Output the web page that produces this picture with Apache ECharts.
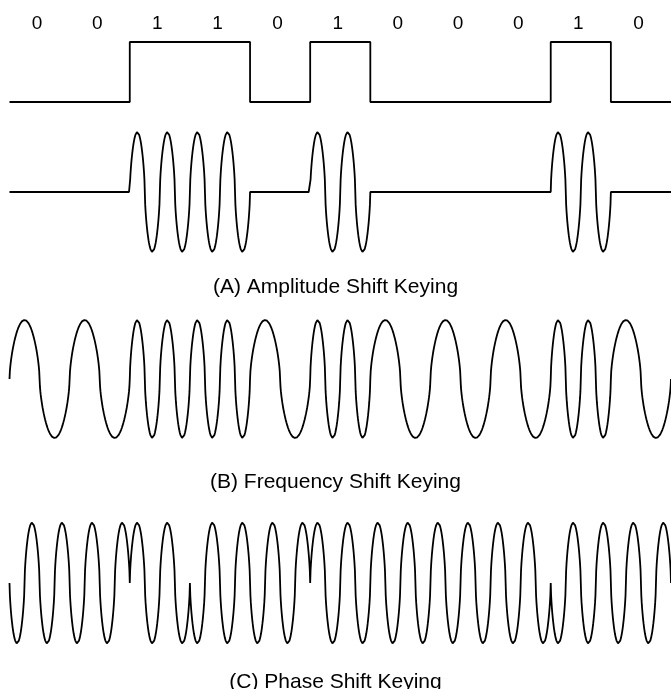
<!DOCTYPE html>
<html>
<head>
<meta charset="utf-8">
<script src="https://cdn.jsdelivr.net/npm/echarts@6/dist/echarts.min.js"></script>
<style>
  html, body { margin: 0; padding: 0; background: #fff; }
  #chart { width: 671px; height: 689px; }
</style>
</head>
<body>
<div id="chart"></div>
<script>
// ---- data ----
var bits = ['0', '0', '1', '1', '0', '1', '0', '0', '0', '1', '0'];
var squareLevels = [0, 0, 1, 1, 0, 1, 0, 0, 0, 1, 0];
var askAmplitude = [0, 0, 1, 1, 0, 1, 0, 0, 0, 1, 0];   // carrier on/off per bit
var askCycles = [2, 2, 2, 2, 2, 2, 2, 2, 2, 2, 2];      // carrier cycles per bit
var fskCycles = [1, 1, 2, 2, 1, 2, 1, 1, 1, 2, 1];      // cycles per bit (low / high frequency)
var pskPhase = [-1, -1, 1, -1, -1, 1, 1, 1, 1, -1, -1]; // carrier sign per bit
var pskCycles = [2, 2, 2, 2, 2, 2, 2, 2, 2, 2, 2];
var captions = ['(A) Amplitude Shift Keying', '(B) Frequency Shift Keying', '(C) Phase Shift Keying'];

// ---- build series data from the per-bit values ----
var SAMPLES = 160;
var SHAPE = 0.62; // rounder lobes, as drawn in the figure
function carrier(amps, cycles) {
  var pts = [];
  for (var i = 0; i < amps.length; i++) {
    for (var j = 0; j <= SAMPLES; j++) {
      var t = j / SAMPLES;
      var s = Math.sin(2 * Math.PI * cycles[i] * t);
      var v = (s < 0 ? -1 : 1) * Math.pow(Math.abs(s), SHAPE);
      pts.push([i + t, amps[i] * v]);
    }
  }
  return pts;
}
var squareData = squareLevels.map(function (v, i) { return [i, v]; });
squareData.push([squareLevels.length, squareLevels[squareLevels.length - 1]]);

var fskAmp = fskCycles.map(function () { return 1; });

var chart = echarts.init(document.getElementById('chart'), null, { renderer: 'canvas' });

var BITW = 60.4;
var LEFT = 9.5;
var gridRight = 671 - LEFT - BITW * bits.length;
function grid(top, height) {
  return { left: LEFT, right: gridRight, top: top, height: height, containLabel: false };
}
function hiddenX(gi) {
  return { type: 'value', gridIndex: gi, min: 0, max: bits.length, show: false };
}
function hiddenY(gi, min, max) {
  return { type: 'value', gridIndex: gi, min: min, max: max, show: false };
}
var lineStyle = { color: '#000', width: 1.8 };
var textFont = 'Liberation Sans, Arial, Helvetica, sans-serif';

chart.setOption({
  animation: false,
  backgroundColor: '#fff',
  title: [
    { text: captions[0], left: 'center', top: 272, textStyle: { fontSize: 21, fontWeight: 'normal', color: '#000', fontFamily: textFont } },
    { text: captions[1], left: 'center', top: 467, textStyle: { fontSize: 21, fontWeight: 'normal', color: '#000', fontFamily: textFont } },
    { text: captions[2], left: 'center', top: 667, textStyle: { fontSize: 21, fontWeight: 'normal', color: '#000', fontFamily: textFont } }
  ],
  grid: [
    grid(42, 60),
    grid(132, 120),
    grid(320, 118),
    grid(522.5, 121)
  ],
  xAxis: [
    hiddenX(0), hiddenX(1), hiddenX(2), hiddenX(3),
    {
      type: 'category', gridIndex: 0, position: 'top', data: bits, boundaryGap: true,
      axisLine: { show: false }, axisTick: { show: false }, splitLine: { show: false },
      axisLabel: { interval: 0, margin: 9, fontSize: 19, color: '#000', fontFamily: textFont, padding: [0, 5, 0, 0] }
    }
  ],
  yAxis: [
    hiddenY(0, 0, 1), hiddenY(1, -1, 1), hiddenY(2, -1, 1), hiddenY(3, -1, 1)
  ],
  series: [
    { type: 'line', xAxisIndex: 0, yAxisIndex: 0, data: squareData, step: 'end', showSymbol: false, lineStyle: lineStyle, silent: true },
    { type: 'line', xAxisIndex: 1, yAxisIndex: 1, data: carrier(askAmplitude, askCycles), showSymbol: false, lineStyle: lineStyle, silent: true },
    { type: 'line', xAxisIndex: 2, yAxisIndex: 2, data: carrier(fskAmp, fskCycles), showSymbol: false, lineStyle: lineStyle, silent: true },
    { type: 'line', xAxisIndex: 3, yAxisIndex: 3, data: carrier(pskPhase, pskCycles), showSymbol: false, lineStyle: lineStyle, silent: true }
  ]
});
</script>
</body>
</html>
